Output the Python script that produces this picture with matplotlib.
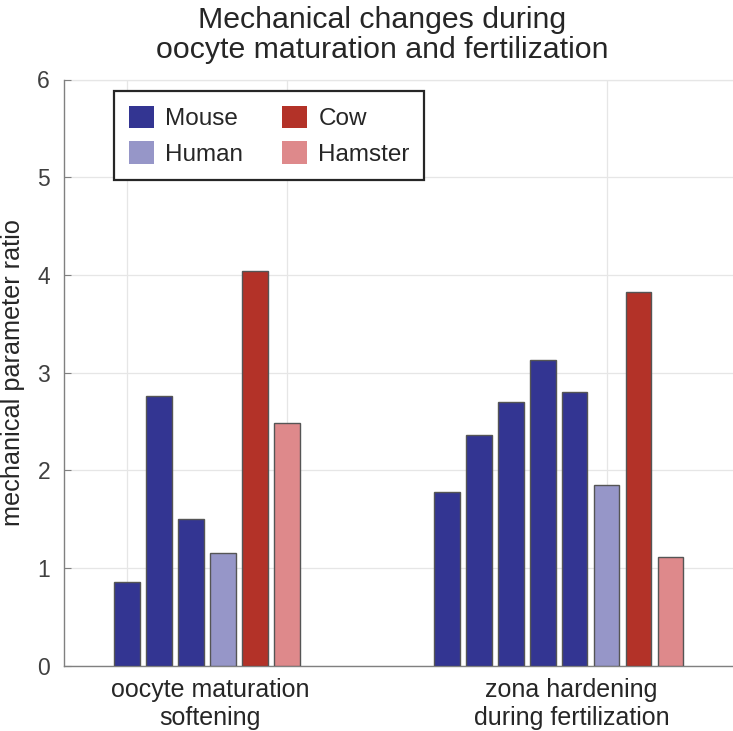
import numpy as np
import matplotlib.pyplot as plt
from matplotlib.patches import Patch

plt.rcParams['font.family'] = ['Liberation Sans', 'DejaVu Sans']

# bar heights
group_labels = ["oocyte maturation\nsoftening", "zona hardening\nduring fertilization"]
g1_species = ["Mouse", "Mouse", "Mouse", "Human", "Cow", "Hamster"]
g1_values = [0.86, 2.76, 1.50, 1.15, 4.04, 2.48]
g2_species = ["Mouse", "Mouse", "Mouse", "Mouse", "Mouse", "Human", "Cow", "Hamster"]
g2_values = [1.78, 2.36, 2.70, 3.13, 2.80, 1.85, 3.82, 1.11]

colors = {"Mouse": "#333592", "Human": "#9696c8", "Cow": "#b33228", "Hamster": "#de898b"}

g1_x = np.arange(1, len(g1_values) + 1)
g2_x = np.arange(11, 11 + len(g2_values))

fig = plt.figure(figsize=(7.33, 7.31), dpi=100)
ax = fig.add_axes([64 / 733, 65.3 / 731, 1 - 64 / 733, 586.2 / 731])

ax.bar(g1_x, g1_values, width=0.8, color=[colors[s] for s in g1_species],
       edgecolor="#555555", linewidth=1.0, zorder=3)
ax.bar(g2_x, g2_values, width=0.8, color=[colors[s] for s in g2_species],
       edgecolor="#555555", linewidth=1.0, zorder=3)

ax.set_xlim(-0.97, 19.95)
ax.set_ylim(0, 6)
ax.set_yticks(range(0, 7))
ax.set_xticks([1, 6, 16])
ax.set_xticklabels([])
ax.set_xticks([3.6, 14.9], group_labels, minor=True)
ax.tick_params(axis="x", which="both", length=0, labelsize=18, labelcolor="#262626", pad=9)
ax.tick_params(axis="y", direction="in", length=5, color="#808080", labelsize=16.5,
               labelcolor="#404040", pad=10)

ax.grid(True, color="#e6e6e6", linewidth=0.9, zorder=0)
ax.set_axisbelow(True)
for side in ["top", "right"]:
    ax.spines[side].set_visible(False)
for side in ["left", "bottom"]:
    ax.spines[side].set_color("#808080")
    ax.spines[side].set_linewidth(1.0)
ax.plot([-0.97, 19.95], [6, 6], color="#e6e6e6", lw=0.9, zorder=0, clip_on=False)

ax.set_ylabel("mechanical parameter ratio", fontsize=18.2, color="#262626", labelpad=9)

fig.text(382 / 733, 1 - 35 / 731, "Mechanical changes during\noocyte maturation and fertilization",
         ha="center", va="center", fontsize=21.8, color="#262626", linespacing=1.12)

handles = [Patch(facecolor=colors[k], edgecolor="none") for k in ["Mouse", "Human", "Cow", "Hamster"]]
leg = ax.legend(handles, ["Mouse", "Human", "Cow", "Hamster"], ncols=2, loc="upper left",
                bbox_to_anchor=(114 / 733, 1 - 91 / 731), bbox_transform=fig.transFigure,
                borderaxespad=0, fontsize=17.5, handlelength=1.05, handleheight=1.05,
                handletextpad=0.45, columnspacing=1.6, borderpad=0.6, labelspacing=0.45,
                fancybox=False, framealpha=1, edgecolor="#262626")
leg.get_frame().set_linewidth(1.6)
for t in leg.get_texts():
    t.set_color("#262626")

fig.savefig("out.png", dpi=100)
